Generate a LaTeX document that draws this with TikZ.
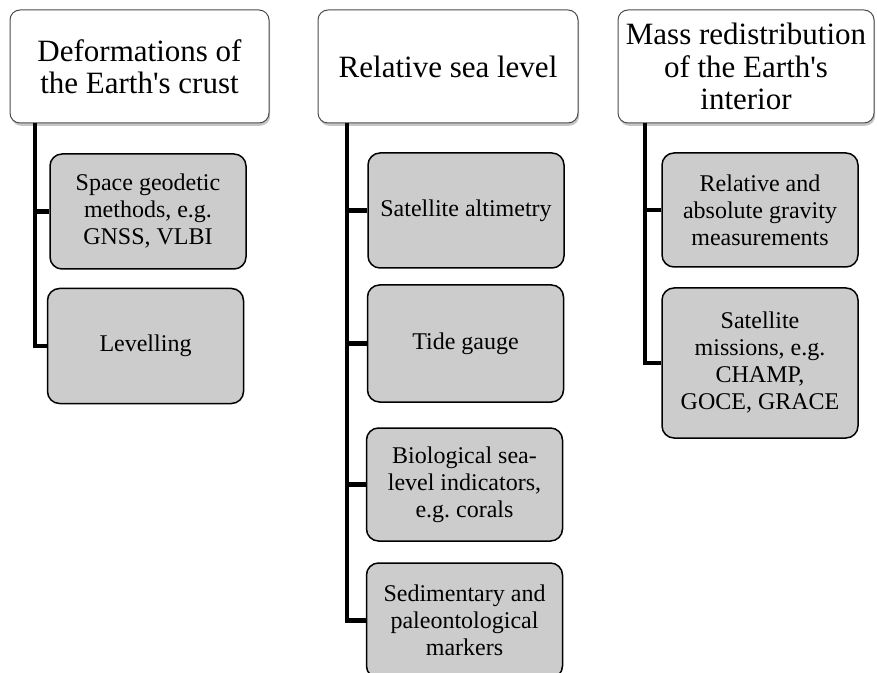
\documentclass[tikz,border=0pt]{standalone}
\usepackage{fontspec}
\setmainfont{Liberation Serif}
\usetikzlibrary{shadows}

\definecolor{boxgray}{RGB}{204,204,204}
\frenchspacing

\begin{document}
\begin{tikzpicture}[
            x = 0.5pt, y = -0.5pt, % one unit is one pixel of the layout
            trunk/.style = {line width = 2.4pt, black}, % thick branch lines
            semithick
        ]

        \tikzstyle{head}=[
            draw = black!70,
            line width = 0.5pt,
            fill = white,
            rounded corners = 5pt,
            align = center,
            inner sep = 0pt,
            minimum height = 56.5pt,
            font = \fontsize{15.5}{16.2}\selectfont,
            drop shadow = {shadow xshift = 0.6pt, shadow yshift = -1.4pt, fill = black!45}
        ]
        \tikzstyle{leaf}=[
            draw = black,
            line width = 0.75pt,
            fill = boxgray,
            rounded corners = 6pt,
            align = center,
            inner sep = 0pt,
            minimum width = 98pt,
            minimum height = 57.5pt,
            font = \fontsize{12}{13.5}\selectfont
        ]

        \useasboundingbox (0,0) rectangle (877,673);

        \node[head, minimum width = 129.5pt] (h1) at (139.5,66.5) {Deformations of\\the Earth\textquotesingle s crust};
        \node[head, minimum width = 130pt]   (h2) at (448,66.5)   {Relative sea level};
        \node[head, minimum width = 128pt]   (h3) at (746,66.5)   {Mass redistribution\\of the Earth\textquotesingle s\\interior};

        \node[leaf] (g1) at (148,211.5)   {Space geodetic\\methods, e.g.\\GNSS, VLBI};
        \node[leaf] (g2) at (145.5,346)   {Levelling};

        \node[leaf] (s1) at (466,210.5)   {Satellite altimetry};
        \node[leaf, minimum height = 58.5pt] (s2) at (465.5,343.5) {Tide gauge};
        \node[leaf, minimum height = 56.5pt] (s3) at (464.5,484.5) {Biological sea-\\level indicators,\\e.g. corals};
        \node[leaf] (s4) at (464.5,620.5) {Sedimentary and\\paleontological\\markers};

        \node[leaf, minimum height = 57pt] (m1) at (760,210) {Relative and\\absolute gravity\\measurements};
        \node[leaf, minimum height = 75pt] (m2) at (760,363) {Satellite\\missions, e.g.\\CHAMP,\\GOCE, GRACE};

        \coordinate (t1) at (35,123);
        \coordinate (t2) at (347,123);
        \coordinate (t3) at (645,123);

        \draw[trunk] (t1) |- (g1.west);
        \draw[trunk] (t1) |- (g2.west);

        \draw[trunk] (t2) |- (s1.west);
        \draw[trunk] (t2) |- (s2.west);
        \draw[trunk] (t2) |- (s3.west);
        \draw[trunk] (t2) |- (s4.west);

        \draw[trunk] (t3) |- (m1.west);
        \draw[trunk] (t3) |- (m2.west);
    \end{tikzpicture}
\end{document}
